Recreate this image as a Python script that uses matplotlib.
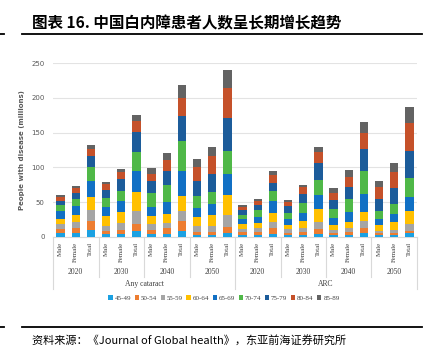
import numpy as np
import matplotlib
matplotlib.use("Agg")
import matplotlib.pyplot as plt
from matplotlib.lines import Line2D
from matplotlib.patches import Patch
import matplotlib.transforms as mtransforms

# Bars: Male / Female / Total for each year, first "Any cataract" then "ARC"
sexes = ["Male", "Female", "Total"] * 8
years = ["2020", "2030", "2040", "2050"] * 2
groups = ["Any cataract", "ARC"]
ages = ["45-49", "50-54", "55-59", "60-64", "65-69", "70-74", "75-79", "80-84", "85-89"]

# millions of people per age band (segment heights)
a45 = [5, 5, 9, 4, 4.3, 7.7, 3.4, 4.3, 7.7, 3, 3, 5.8,
       2.4, 2.4, 4.3, 2, 2.4, 4.3, 2, 2.4, 4.8, 2, 2, 4.8]
a50 = [5.5, 7, 13.6, 3.7, 5.7, 10.3, 5.6, 8.2, 14.3, 3.7, 4, 8.6,
       3.9, 4.3, 7.7, 3.3, 3.9, 7.2, 3.8, 4.8, 8.2, 2.8, 2.8, 3.4]
a55 = [7.5, 9.6, 15.9, 8.3, 10, 19, 9, 7.5, 15.5, 8.3, 9, 16.6,
       4.7, 6.3, 9.6, 5.3, 6.2, 10.1, 3.8, 5.8, 9, 3.4, 4.8, 10.1]
a60 = [8, 9.4, 18.5, 14, 15, 28, 12, 12.7, 21.5, 13, 16, 29,
       7, 7, 13, 5.7, 10.1, 17.8, 6.7, 8, 14, 8.1, 11.1, 18.7]
a65 = [11, 13.7, 24, 13, 16, 30, 13, 17.8, 36, 14, 15.6, 30,
       7, 9, 16.8, 8.7, 12, 21.2, 10.1, 14, 25, 8.7, 12, 20.7]
a70 = [9, 10.3, 20, 13, 15, 27, 20.5, 23.5, 43, 16.6, 17.4, 34,
       6.7, 9, 14.6, 9.6, 13.4, 21.1, 14, 19, 33.7, 12, 14.3, 26.9]
a75 = [6, 8, 15, 12, 17, 29, 16.5, 21, 36.5, 21.4, 26, 46.7,
       6.3, 7.7, 12, 10.1, 13.5, 25, 13, 17.6, 31.3, 16.8, 22.7, 39]
a80 = [5, 7, 10.5, 8, 10, 16, 11, 15, 26, 20, 25, 44.3,
       5, 5.7, 11, 5.3, 10.1, 14.9, 9.1, 14.9, 23, 17.2, 23.1, 39.9]
a85 = [3, 2.6, 6.2, 3, 4, 8.5, 7.6, 10, 18.5, 12, 14, 26,
       2.7, 2.6, 5.7, 3.4, 3.4, 7.4, 8.2, 9.5, 17, 9.8, 13.9, 24]

series = [a45, a50, a55, a60, a65, a70, a75, a80, a85]
colors = ["#1BA1E2", "#ED7D31", "#A5A5A5", "#FFC000", "#1170C4",
          "#4FB848", "#1C5C9A", "#C5512A", "#636363"]

W, H = 434, 350
fig = plt.figure(figsize=(W / 100, H / 100), dpi=100)

def fx(px):
    return px / W

def fy(py):
    return 1 - py / H

# title and rules
fig.text(fx(32), fy(23), "图表 16. 中国白内障患者人数呈长期增长趋势", fontsize=11.2,
         fontweight="bold", family=["Noto Sans CJK SC", "DejaVu Sans"], va="center", ha="left")
for yy in (33.5, 327):
    fig.add_artist(Line2D([fx(22), fx(422)], [fy(yy), fy(yy)], color="black", lw=1.3))
    fig.add_artist(Line2D([fx(0), fx(4)], [fy(yy), fy(yy)], color="black", lw=1.3))
fig.text(fx(32), fy(340), "资料来源：《Journal of Global health》，东亚前海证券研究所",
         fontsize=8, family=["Noto Sans CJK SC", "DejaVu Sans"], va="center", ha="left")

ax = fig.add_axes([fx(53), fy(236.7), 364 / W, 173.4 / H])
x = np.arange(len(sexes))
bottom = np.zeros(len(sexes))
for vals, c, lab in zip(series, colors, ages):
    ax.bar(x, vals, 0.55, bottom=bottom, color=c, label=lab, zorder=3)
    bottom += np.array(vals)

ax.set_xlim(-0.5, len(sexes) - 0.5)
ax.set_ylim(0, 250)
ax.set_yticks([0, 50, 100, 150, 200, 250])
ax.yaxis.grid(True, color="#E3E3E3", lw=0.8, zorder=0)
ax.tick_params(axis="y", length=0, labelsize=5, colors="#595959", pad=6)
ax.set_xticks([])
for s in ["top", "right", "left"]:
    ax.spines[s].set_visible(False)
ax.spines["bottom"].set_color("#D9D9D9")
ax.spines["bottom"].set_linewidth(0.8)
fig.text(fx(22), fy(150), "People with disease (millions)", rotation=90, fontsize=5,
         fontweight="bold", color="#595959", va="center", ha="center")

# hierarchical category axis
tr = mtransforms.blended_transform_factory(ax.transData, fig.transFigure)
serif = "Liberation Serif"
for i, s in enumerate(sexes):
    ax.text(i, fy(242), s, rotation=90, fontsize=5, family=serif, color="#404040",
            ha="center", va="top", transform=tr)
for j, yr in enumerate(years):
    ax.text(3 * j + 1, fy(272), yr, fontsize=5.5, family=serif, color="#404040",
            ha="center", va="center", transform=tr)
for k, g in enumerate(groups):
    ax.text(12 * k + 5.5, fy(284), g, fontsize=5.5, family=serif, color="#404040",
            ha="center", va="center", transform=tr)
for j in range(9):
    xx = 3 * j - 0.5
    ylow = 289 if j % 4 == 0 else 277
    ax.add_line(Line2D([xx, xx], [fy(236.7), fy(ylow)], color="#D9D9D9", lw=0.8,
                       transform=tr, clip_on=False))

handles = [Patch(facecolor=c, edgecolor="none") for c in colors]
fig.legend(handles, ages, loc="center", bbox_to_anchor=(fx(224), fy(298)), ncol=9,
           frameon=False, prop={"family": serif, "size": 5}, handlelength=0.6,
           handleheight=0.6, handletextpad=0.3, columnspacing=0.5, labelcolor="#404040")

fig.savefig("out.png", dpi=100)
